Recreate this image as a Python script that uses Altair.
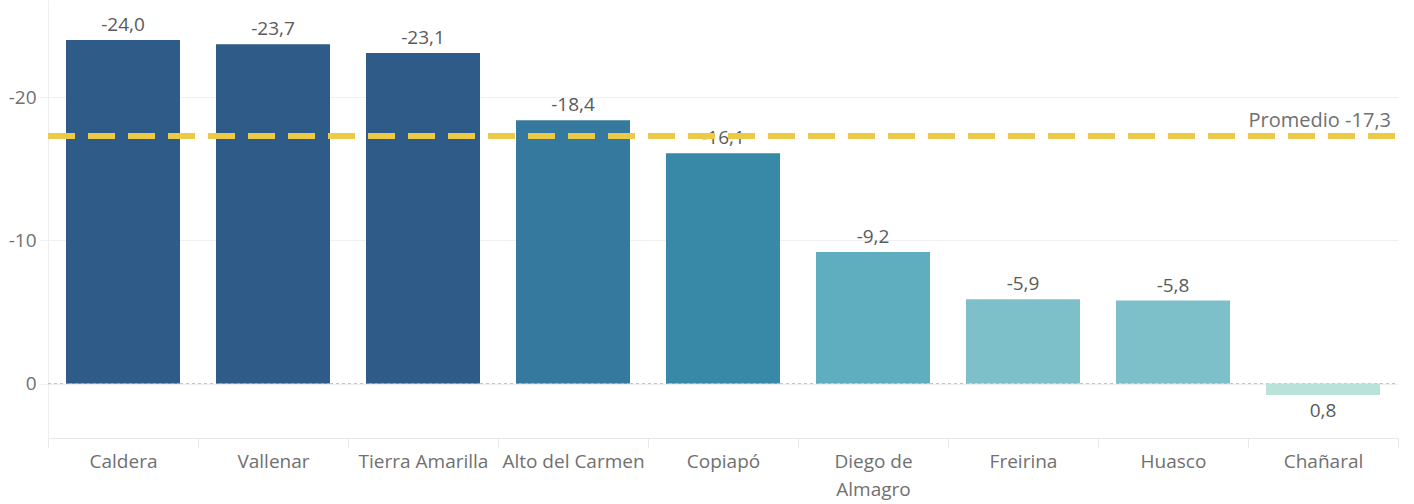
import altair as alt
import pandas as pd

# Variación por comuna (valores negativos hacia arriba)
comunas = ["Caldera", "Vallenar", "Tierra Amarilla", "Alto del Carmen", "Copiapó",
           "Diego de Almagro", "Freirina", "Huasco", "Chañaral"]
valores = [-24.0, -23.7, -23.1, -18.4, -16.1, -9.2, -5.9, -5.8, 0.8]
colores = ["#2e5b87", "#2e5b87", "#2e5b87", "#35799e", "#3888a7",
           "#5eaec0", "#7dc0ca", "#7dc0ca", "#b9e2d8"]
promedio = -17.3
ticks_y = [-20, -10, 0]

FONT = "Open Sans"
FS = 19
W, H = 1350, 438


def coma(v):
    return f"{v:.1f}".replace(".", ",")


df = pd.DataFrame({"comuna": comunas, "valor": valores, "color": colores})
df["etiqueta"] = [coma(v) for v in valores]

prom_df = pd.DataFrame({"valor": [promedio], "etiqueta": [f"Promedio {coma(promedio)}"]})
cero_df = pd.DataFrame({"valor": [0]})

y_scale = alt.Scale(domain=[-26.8, 3.8], reverse=True, nice=False, zero=False)

x_enc = alt.X(
    "comuna:N",
    sort=comunas,
    scale=alt.Scale(paddingInner=0, paddingOuter=0),
    axis=alt.Axis(
        title=None, labelAngle=0, tickBand="extent", grid=False,
        domainColor="#e8e8e8", tickColor="#e8e8e8", tickSize=10,
        labelPadding=4, labelFontSize=FS, labelColor="#707070", labelFont=FONT,
        labelLineHeight=28, labelBaseline="top",
        labelExpr="datum.label == 'Diego de Almagro' ? ['Diego de', 'Almagro'] : datum.label",
    ),
)

y_enc = alt.Y(
    "valor:Q",
    scale=y_scale,
    axis=alt.Axis(
        title=None, values=ticks_y, grid=True, gridColor="#f0f0f0",
        domainColor="#eeeeee", tickColor="#f0f0f0", tickSize=8, labelPadding=4,
        labelFontSize=FS, labelColor="#707070", labelFont=FONT,
        labelExpr="datum.value == 0 ? '0' : '' + datum.value",
    ),
)

base = alt.Chart(df)

cero = alt.Chart(cero_df).mark_rule(color="#bdbdbd", strokeDash=[3, 3], strokeWidth=1).encode(
    y=alt.Y("valor:Q", scale=y_scale), x=alt.value(0), x2=alt.value(W)
)

barras = base.mark_bar(width=alt.RelativeBandSize(0.76)).encode(
    x=x_enc, y=y_enc, y2=alt.datum(0), color=alt.Color("color:N", scale=None)
)

txt_neg = base.transform_filter("datum.valor < 0").mark_text(
    baseline="bottom", dy=-5, fontSize=FS, font=FONT, color="#5a5a5a", fontWeight=500
).encode(x=alt.X("comuna:N", sort=comunas), y="valor:Q", text="etiqueta:N")

txt_pos = base.transform_filter("datum.valor >= 0").mark_text(
    baseline="top", dy=7, fontSize=FS, font=FONT, color="#5a5a5a", fontWeight=500
).encode(x=alt.X("comuna:N", sort=comunas), y="valor:Q", text="etiqueta:N")

linea_prom = alt.Chart(prom_df).mark_rule(
    color="#edc948", strokeDash=[27, 13], strokeWidth=6
).encode(y=alt.Y("valor:Q", scale=y_scale), x=alt.value(0), x2=alt.value(W))

txt_prom = alt.Chart(prom_df).mark_text(
    align="right", baseline="bottom", dy=-5, fontSize=20, font=FONT, color="#707070"
).encode(y=alt.Y("valor:Q", scale=y_scale), x=alt.value(W - 7), text="etiqueta:N")

chart = (
    alt.layer(cero, barras, txt_neg, txt_pos, linea_prom, txt_prom)
    .resolve_scale(y="shared")
    .properties(
        width=W, height=H,
        autosize=alt.AutoSizeParams(type="none"),
        padding={"left": 48, "top": 0, "right": 16, "bottom": 66},
        background="white",
    )
    .configure_view(stroke=None)
)

chart.save("out.html", embed_options={"renderer": "svg", "actions": False})
